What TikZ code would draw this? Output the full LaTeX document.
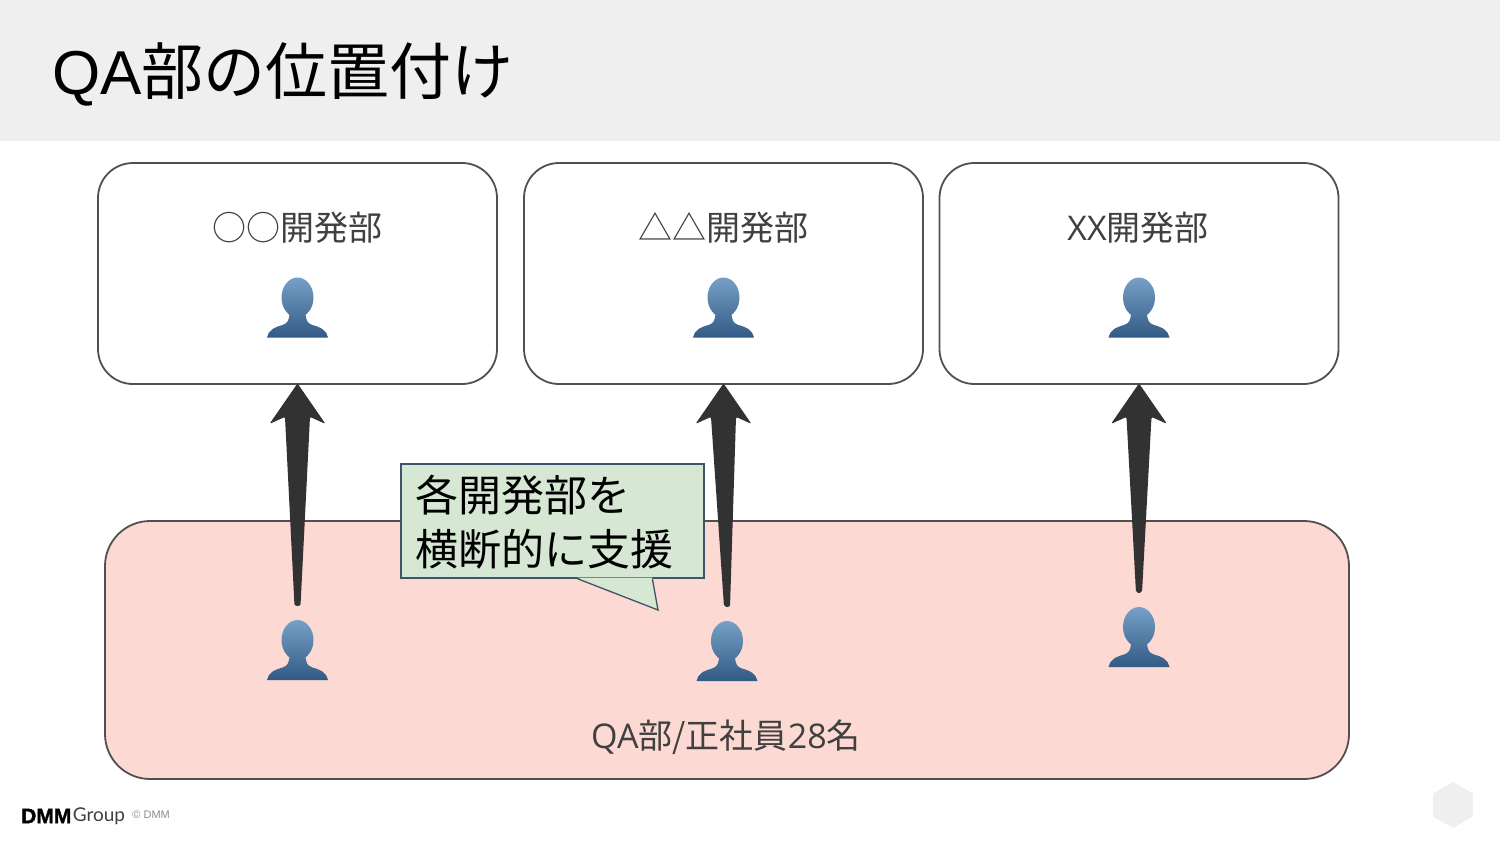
\documentclass[tikz,border=0pt]{standalone}
\usepackage{fontspec}
\setmainfont{Noto Sans CJK JP}
\newfontfamily\logofont{Liberation Sans}
\newfontfamily\dmmfont[FakeBold=1.6]{Liberation Sans}
\newfontfamily\grouplogo{Lato}
\newfontfamily\latinlbl{Open Sans}
\usepackage{xcolor}
\definecolor{qaBand}{RGB}{239,239,239}
\definecolor{qaEdge}{RGB}{80,80,80}
\definecolor{qaInk}{RGB}{64,64,64}
\definecolor{qaPink}{RGB}{252,217,211}
\definecolor{qaMint}{RGB}{214,232,212}
\definecolor{qaSlate}{RGB}{62,84,104}
\definecolor{qaArrow}{RGB}{50,50,50}
\definecolor{qaHeadT}{RGB}{118,160,200}
\definecolor{qaHeadB}{RGB}{50,90,132}
\usetikzlibrary{positioning,calc,shapes.geometric}
% tapered arrow, from a person up to a box
\newcommand{\taperarrow}[2]{%
  \path ($(#1.north)+(0,-14)$) coordinate (tl) (#2.south) coordinate (hd);
  \fill[taper] ($(tl)+(-3,0)$) -- ($(hd)+(-12.5,32)$) -- ($(hd)+(-28,39)$) -- ($(hd)+(0,-1.5)$)
    -- ($(hd)+(28,39)$) -- ($(hd)+(12.5,32)$) -- ($(tl)+(3,0)$) -- cycle;}
\begin{document}
\begin{tikzpicture}[x=1pt,y=-1pt,
  dev/.style={draw=qaEdge,line width=1.8pt,fill=white,rounded corners=35pt,minimum width=399pt,minimum height=221pt,inner sep=0pt},
  qa/.style={draw=qaEdge,line width=1.8pt,fill=qaPink,rounded corners=45pt,minimum width=1244pt,minimum height=258pt,inner sep=0pt},
  lbl/.style={text=qaInk,inner sep=0pt,font=\fontsize{34}{40}\selectfont},
  taper/.style={fill=qaArrow,rounded corners=2pt},
  person/.style={minimum width=62pt,minimum height=60pt,inner sep=0pt,path picture={
    \shade[shift={(path picture bounding box.center)},top color=qaHeadT,bottom color=qaHeadB,shading angle=0]
      (0,-10) ellipse [x radius=16,y radius=20]
      (-30.5,30) .. controls (-29,23) and (-24,20) .. (-15,17.5) .. controls (-10,16) and (-8,13) .. (-8,4)
      -- (8,4) .. controls (8,13) and (10,16) .. (15,17.5) .. controls (24,20) and (29,23) .. (30.5,30) -- cycle;}}]
  \useasboundingbox (0,0) rectangle (1500,844);
  \fill[qaBand] (0,0) rectangle (1500,141);
  \node[anchor=west,inner sep=0pt,font=\fontsize{62}{70}\selectfont] (title) at (52,74) {{\logofont QA}部の位置付け};
  \node[dev] (devA) at (297.5,273.5) {};
  \node[dev] (devB) at (723.5,273.5) {};
  \node[dev] (devC) at (1139,273.5) {};
  \node[qa] (qaDept) at (727,650) {};
  \node[lbl] (lblA) at (297.5,228) {○○開発部};
  \node[lbl] (lblB) at (723.5,228) {△△開発部};
  \node[lbl] (lblC) at (1138,228) {{\latinlbl XX}開発部};
  \node[lbl] (lblQ) at (726,737) {{\latinlbl QA}部/正社員{\latinlbl 28}名};
  \node[person] (manA) at (297.5,307.5) {};
  \node[person] (manB) at (723.5,307.5) {};
  \node[person] (manC) at (1139,307.5) {};
  \node[person] (qaA) at (297.5,650) {};
  \node[person] (qaB) at (727,651) {};
  \node[person] (qaC) at (1139,637) {};
  \taperarrow{qaA}{devA}
  \taperarrow{qaB}{devB}
  \taperarrow{qaC}{devC}
  \node[draw=qaSlate,line width=1.3pt,fill=qaMint,minimum width=303pt,minimum height=114pt,inner sep=0pt] (note) at (552.5,521) {};
  \fill[qaMint] ($(note.south west)+(177,-1)$) -- (658,610) -- ($(note.south west)+(252,-1)$) -- cycle;
  \draw[qaSlate,line width=1.3pt] ($(note.south west)+(177,0)$) -- (658,610) -- ($(note.south west)+(252,0)$);
  \node[anchor=west,align=left,inner sep=0pt,font=\fontsize{43}{54}\selectfont] (noteText) at ($(note.west)+(15,1)$) {各開発部を\\横断的に支援};
  \node[anchor=west,inner sep=0pt,font=\dmmfont\bfseries\fontsize{21}{24}\selectfont] (logoA) at (21,816) {DMM};
  \node[right=1pt of logoA,inner sep=0pt,text=qaInk,font=\grouplogo\fontsize{19}{24}\selectfont] (logoB) {Group};
  \node[right=7pt of logoB,inner sep=0pt,yshift=1pt,text=black!45,font=\logofont\fontsize{11}{13}\selectfont] (logoC) {© DMM};
  \node[regular polygon,regular polygon sides=6,shape border rotate=30,fill=qaBand,minimum size=46pt,inner sep=0pt] (hex) at (1453,805) {};
\end{tikzpicture}
\end{document}
